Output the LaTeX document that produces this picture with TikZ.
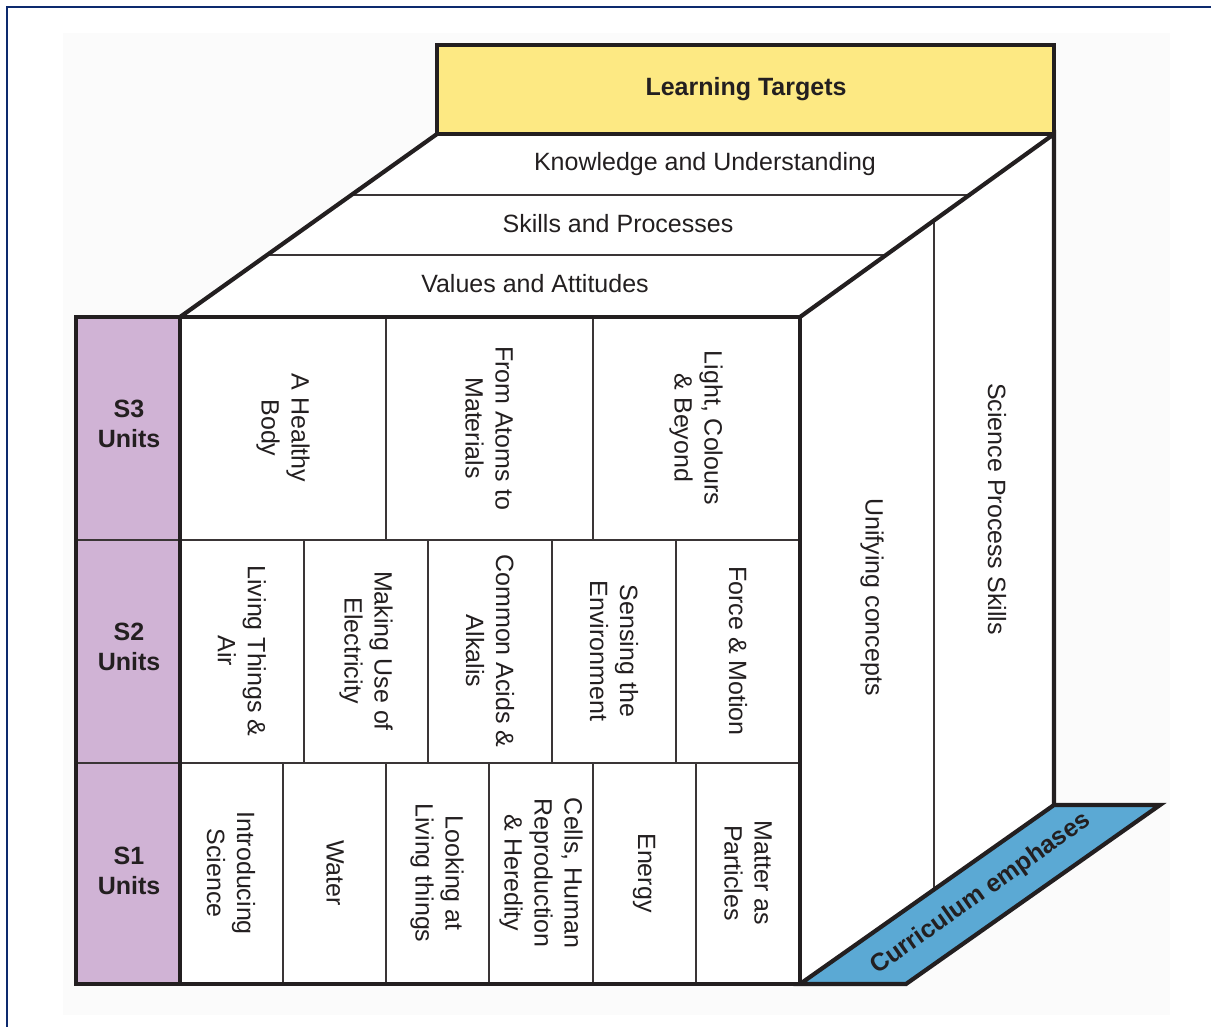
\documentclass[tikz,border=0pt]{standalone}
\usepackage{fontspec}
\setmainfont{Liberation Sans}
\definecolor{ink}{HTML}{231F20}
\definecolor{divcol}{HTML}{3A3536}
\definecolor{yellowfill}{HTML}{FDE983}
\definecolor{purplefill}{HTML}{D0B3D5}
\definecolor{bluefill}{HTML}{5BA9D4}
\definecolor{framecol}{HTML}{0D2A6E}
\definecolor{bgfill}{HTML}{FBFBFB}
\begin{document}
\begin{tikzpicture}[x=1pt,y=-1pt,
  thickln/.style={draw=ink,line width=4.2pt,line join=miter},
  thinln/.style={draw=divcol,line width=2pt},
  lbl/.style={font=\fontsize{25}{30}\selectfont,text=ink,align=center,inner sep=0pt},
  vlbl/.style={lbl,rotate=-90},
  blbl/.style={lbl,font=\fontsize{25}{30}\selectfont\bfseries}]

\useasboundingbox (0,0) rectangle (1211,1027);
\fill[bgfill] (63,33) rectangle (1170,1015);
\draw[framecol,line width=2.5pt] (7,1030) -- (7,7) -- (1215,7);

% fills
\fill[yellowfill] (437,45) rectangle (1054,134);
\fill[white] (180,317) -- (437,134) -- (1054,134) -- (800,317) -- cycle;
\fill[white] (800,317) -- (1054,134) -- (1054,805) -- (800,984) -- cycle;
\fill[white] (180,317) rectangle (800,984);
\fill[purplefill] (76,317) rectangle (180,984);
\fill[bluefill] (800,984) -- (1054,805) -- (1160,805) -- (906,984) -- cycle;

% thin dividers
\draw[thinln] (351,195) -- (969,195);
\draw[thinln] (267,255) -- (886,255);
\draw[thinln] (934,220) -- (934,890);
\draw[thinln] (76,540) -- (800,540);
\draw[thinln] (76,763) -- (800,763);
\foreach \x in {386,593} \draw[thinln] (\x,317) -- (\x,540);
\foreach \x in {304,428,552,676} \draw[thinln] (\x,540) -- (\x,763);
\foreach \x in {283,386,489,593,696} \draw[thinln] (\x,763) -- (\x,984);

% thick outlines
\draw[thickln] (437,45) rectangle (1054,134);
\draw[thickln] (180,317) -- (437,134);
\draw[thickln] (800,317) -- (1054,134) -- (1054,805);
\draw[thickln] (76,317) rectangle (800,984);
\draw[thickln] (180,317) -- (180,984);
\draw[thickln] (800,984) -- (1054,805) -- (1160,805) -- (906,984) -- cycle;

% labels
\node[blbl] (lt) at (746,89) {Learning Targets};
\node[lbl] (ku) at (705,164) {Knowledge and Understanding};
\node[lbl] (sp) at (618,224) {Skills and Processes};
\node[lbl] (va) at (535,284) {Values and Attitudes};

\node[blbl] (s3) at (129,424) {S3\\Units};
\node[blbl] (s2) at (129,647) {S2\\Units};
\node[blbl] (s1) at (129,871) {S1\\Units};

\node[vlbl] (u31) at (283,428) {A Healthy\\Body};
\node[vlbl] (u32) at (489,428) {From Atoms to\\Materials};
\node[vlbl] (u33) at (696,428) {Light, Colours\\\& Beyond};

\node[vlbl] (u21) at (242,651) {Living Things \&\\Air};
\node[vlbl] (u22) at (366,651) {Making Use of\\Electricity};
\node[vlbl] (u23) at (490,651) {Common Acids \&\\Alkalis};
\node[vlbl] (u24) at (614,651) {Sensing the\\Environment};
\node[vlbl] (u25) at (738,651) {Force \& Motion};

\node[vlbl] (u11) at (231,873) {Introducing\\Science};
\node[vlbl] (u12) at (335,873) {Water};
\node[vlbl] (u13) at (437,873) {Looking at\\Living things};
\node[vlbl] (u14) at (541,873) {Cells, Human\\Reproduction\\\& Heredity};
\node[vlbl] (u15) at (644,873) {Energy};
\node[vlbl] (u16) at (748,873) {Matter as\\Particles};

\node[vlbl] (uc) at (872,597) {Unifying concepts};
\node[vlbl] (sps) at (997,509) {Science Process Skills};
\node[blbl,rotate=35.2] (ce) at (981,894) {Curriculum emphases};
\end{tikzpicture}
\end{document}
